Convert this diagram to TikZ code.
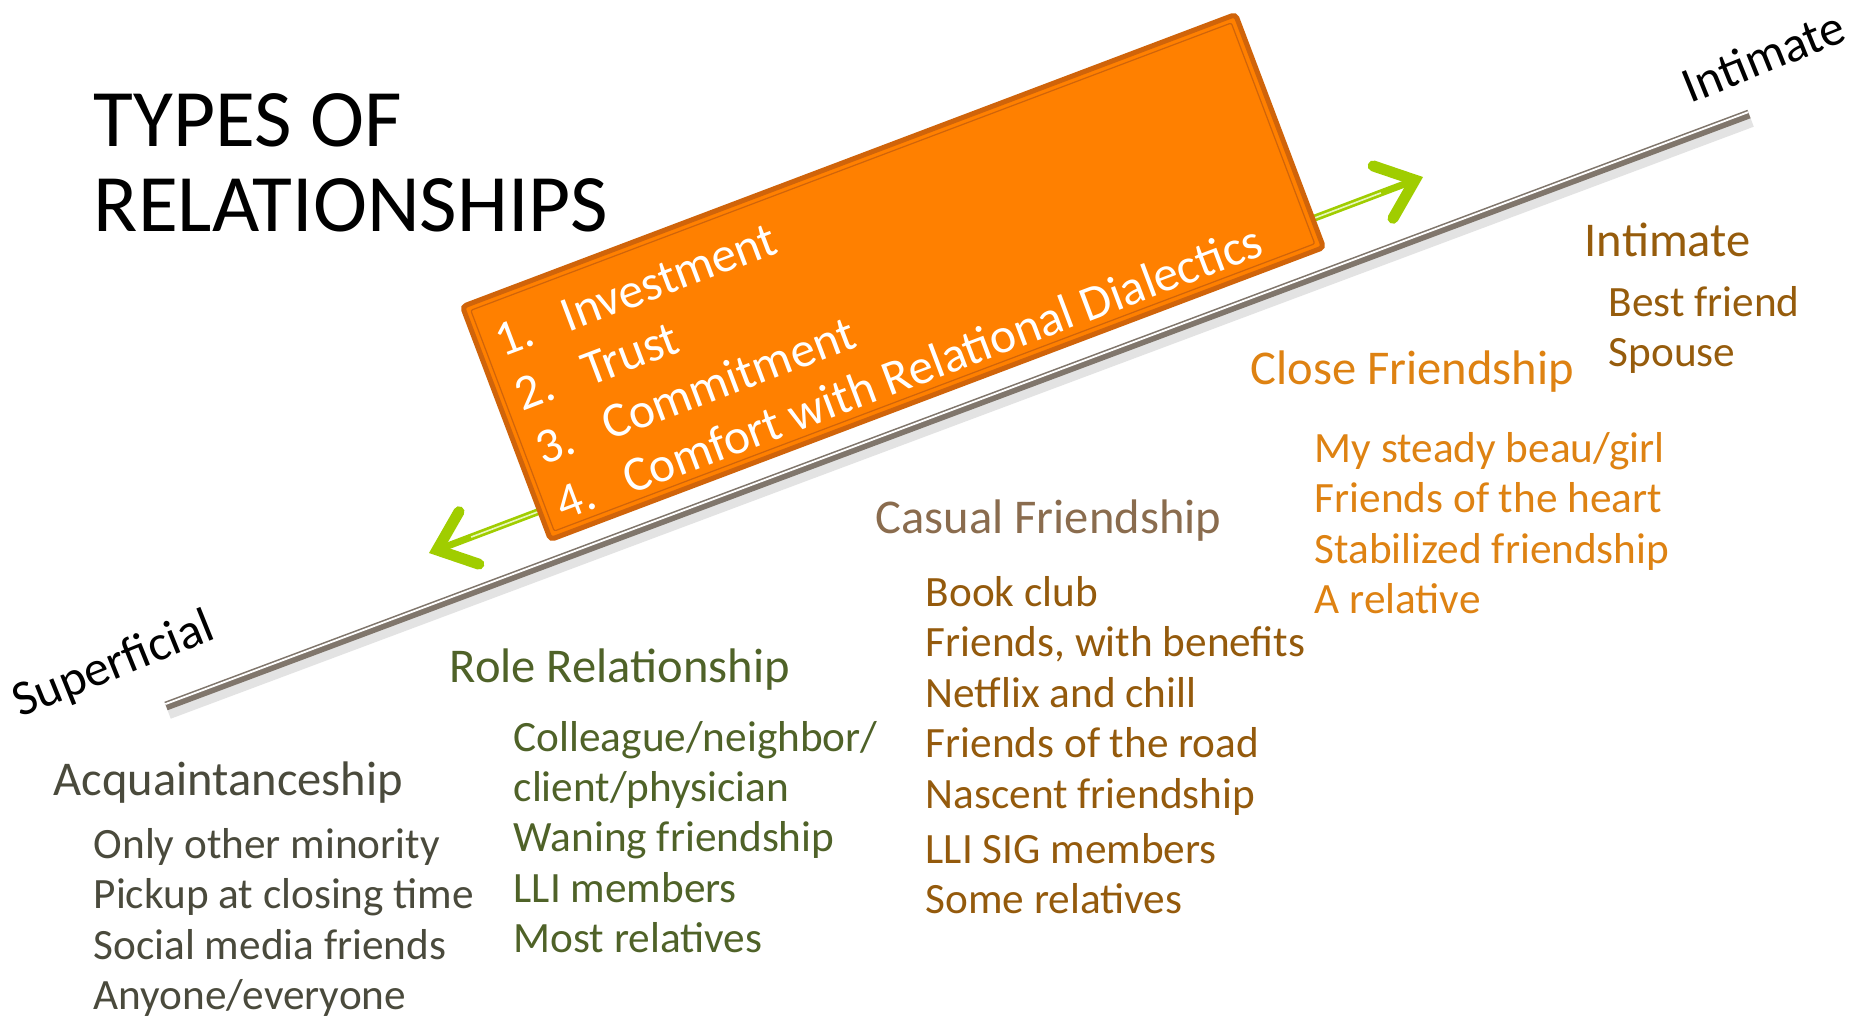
\documentclass[tikz,border=0pt]{standalone}
\usepackage{fontspec}
\setmainfont{Carlito}
\usepackage{xcolor}
\usetikzlibrary{arrows.meta, positioning}

\definecolor{boxorange}{RGB}{255,128,0}
\definecolor{boxedge}{RGB}{208,100,10}
\definecolor{arrowgreen}{RGB}{160,205,0}
\definecolor{arrowshine}{RGB}{232,246,190}
\definecolor{railgray}{RGB}{128,118,108}
\definecolor{acqcolor}{RGB}{74,74,60}
\definecolor{rolecolor}{RGB}{79,98,40}
\definecolor{casualhead}{RGB}{138,108,78}
\definecolor{casualitem}{RGB}{148,90,12}
\definecolor{closecolor}{RGB}{222,130,18}
\definecolor{intimatecolor}{RGB}{150,92,12}

\begin{document}
\begin{tikzpicture}[
    x=0.01cm, y=-0.01cm,
    titletext/.style={anchor=base west, inner sep=0pt, font=\fontsize{23.2}{24}\selectfont},
    grouphead/.style={anchor=base west, inner sep=0pt, font=\fontsize{13.8}{16}\selectfont},
    groupitem/.style={anchor=base west, inner sep=0pt, font=\fontsize{12.3}{14.4}\selectfont},
    axislabel/.style={anchor=base west, inner sep=0pt, font=\fontsize{14.2}{16}\selectfont},
    boxtext/.style={anchor=base west, inner sep=0pt, text=white, font=\fontsize{14.1}{16.5}\selectfont},
    listbox/.style={rectangle, draw=boxedge, line width=0.05cm, fill=boxorange, minimum width=8.26cm, minimum height=2.49cm, rounded corners=0.04cm},
    boxinner/.style={draw=boxedge, line width=0.012cm, rounded corners=0.02cm},
    rail/.style={draw=railgray, line width=0.09cm},
    railshine/.style={draw=white, line width=0.018cm},
    railshadow/.style={draw=black!18, line width=0.1cm, opacity=0.6},
    greenarrow/.style={draw=arrowgreen, line width=0.07cm, -{Straight Barb[length=0.34cm, width=0.56cm, line width=0.11cm, line cap=round]}},
    greenshine/.style={draw=arrowshine, line width=0.016cm, shorten >=0.45cm},
    acqitem/.style={groupitem, text=acqcolor},
    roleitem/.style={groupitem, text=rolecolor},
    casualitem/.style={groupitem, text=casualitem},
    closeitem/.style={groupitem, text=closecolor},
    intimateitem/.style={groupitem, text=intimatecolor}
]

\fill[white] (0,0) rectangle (1861,1020);
\useasboundingbox (0,0) rectangle (1861,1020);

% Title
\node[titletext] (title1) at (93,146) {TYPES OF};
\node[below=8.5mm of title1.base west, titletext] (title2) {RELATIONSHIPS};

% Scale line
\coordinate (low) at (166,706);
\coordinate (high) at (1749,114);
\draw[railshadow] ([shift={(3,8)}]low) -- ([shift={(3,8)}]high);
\draw[rail] (low) -- (high);
\draw[railshine] ([shift={(-0.7,-1.9)}]low) -- ([shift={(-0.7,-1.9)}]high);

\node[axislabel, rotate=22] (superficial) at (20,718) {Superficial};
\node[axislabel, rotate=22] (intimate) at (1690,104) {Intimate};

% Arrows behind the box
\coordinate (mid) at (926,365);
\coordinate (tipL) at (429,553);
\coordinate (tipR) at (1423,177);
\draw[greenarrow] (mid) -- (tipL);
\draw[greenarrow] (mid) -- (tipR);
\draw[greenshine] (mid) -- (tipL);
\draw[greenshine] (mid) -- (tipR);

% Box with the list
\node[listbox, rotate=20.7] (box) at (893,277) {};
\begin{scope}[shift={(box.north west)}, rotate=20.7, transform shape]
  \draw[boxinner] (9,9) rectangle (822,245);
  \foreach \t [count=\i] in {Investment, Trust, Commitment, Comfort with Relational Dialectics} {
    \node[boxtext] (num\i) at (21,6+58*\i) {\i.};
    \node[boxtext] (step\i) at (92,6+58*\i) {\t};
  }
\end{scope}

% Acquaintanceship
\node[grouphead, text=acqcolor] (acq) at (53,795) {Acquaintanceship};
\node[acqitem] (acq1) at (93,858) {Only other minority};
\node[below=5.05mm of acq1.base west, acqitem] (acq2) {Pickup at closing time};
\node[below=5.05mm of acq2.base west, acqitem] (acq3) {Social media friends};
\node[below=5.05mm of acq3.base west, acqitem] (acq4) {Anyone/everyone};

% Role relationship
\node[grouphead, text=rolecolor] (role) at (449,682) {Role Relationship};
\node[roleitem] (role1) at (513,751) {Colleague/neighbor/};
\node[below=5.0mm of role1.base west, roleitem] (role2) {client/physician};
\node[below=5.05mm of role2.base west, roleitem] (role3) {Waning friendship};
\node[below=5.05mm of role3.base west, roleitem] (role4) {LLI members};
\node[below=5.05mm of role4.base west, roleitem] (role5) {Most relatives};

% Casual friendship
\node[grouphead, text=casualhead] (casual) at (875,533) {Casual Friendship};
\node[casualitem] (casual1) at (925,606) {Book club};
\node[below=5.05mm of casual1.base west, casualitem] (casual2) {Friends, with benefits};
\node[below=5.05mm of casual2.base west, casualitem] (casual3) {Netflix and chill};
\node[below=5.05mm of casual3.base west, casualitem] (casual4) {Friends of the road};
\node[below=5.05mm of casual4.base west, casualitem] (casual5) {Nascent friendship};
\node[below=5.5mm of casual5.base west, casualitem] (casual6) {LLI SIG members};
\node[below=5.05mm of casual6.base west, casualitem] (casual7) {Some relatives};

% Close friendship
\node[grouphead, text=closecolor] (close) at (1250,384) {Close Friendship};
\node[closeitem] (close1) at (1314,462) {My steady beau/girl};
\node[below=5.05mm of close1.base west, closeitem] (close2) {Friends of the heart};
\node[below=5.05mm of close2.base west, closeitem] (close3) {Stabilized friendship};
\node[below=5.05mm of close3.base west, closeitem] (close4) {A relative};

% Intimate
\node[grouphead, text=intimatecolor] (inti) at (1584,256) {Intimate};
\node[intimateitem] (inti1) at (1608,316) {Best friend};
\node[below=5.05mm of inti1.base west, intimateitem] (inti2) {Spouse};

\end{tikzpicture}
\end{document}
